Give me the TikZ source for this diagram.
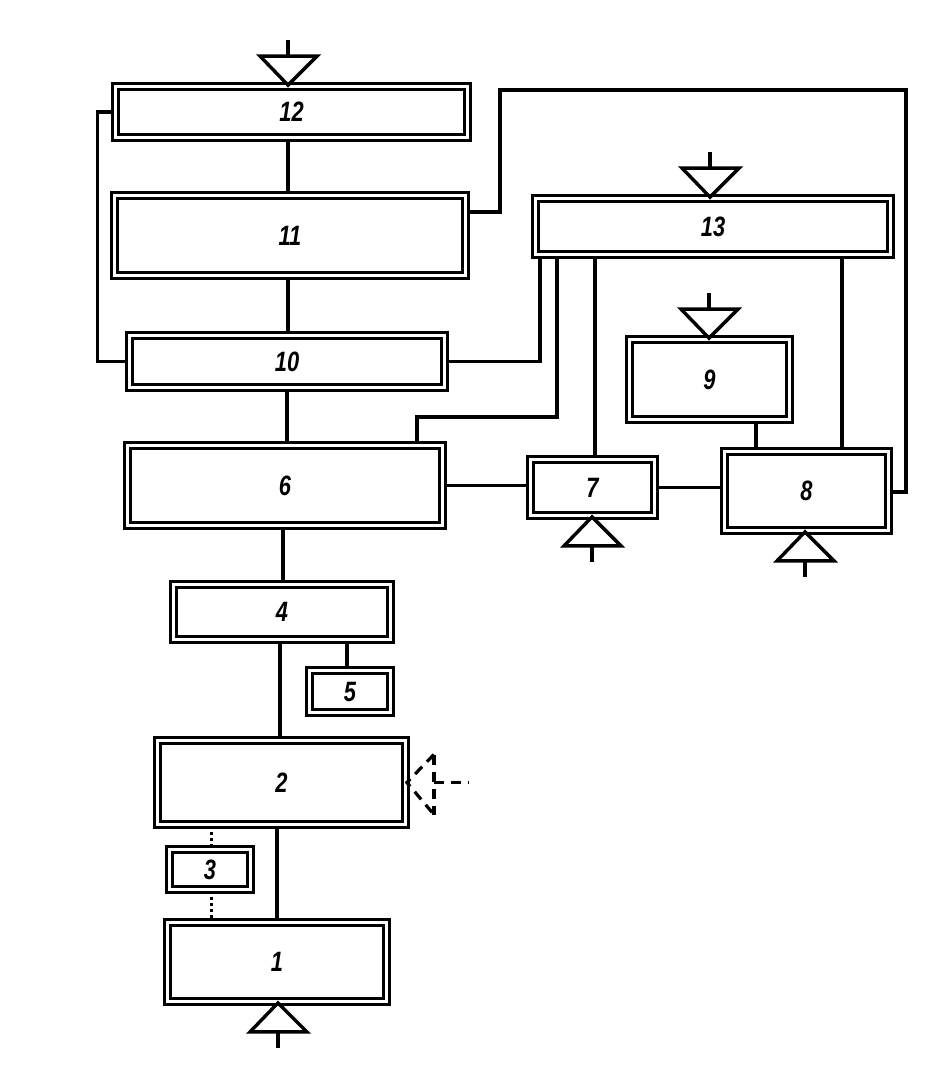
\documentclass[tikz,border=0pt]{standalone}
\usepackage{fontspec}
\newfontfamily\lblfont[FakeStretch=0.78]{Liberation Sans}
\usetikzlibrary{backgrounds,calc}
\begin{document}
\begin{tikzpicture}[x=1pt,y=-1pt,
  blk/.style={draw, double, line width=2.8pt, double distance=3.2pt, inner sep=0pt,
    font=\lblfont\bfseries\itshape\fontsize{28}{30}\selectfont},
  wire/.style={line width=3.2pt},
  dotw/.style={line width=3pt, dash pattern=on 3pt off 3pt},
  dashw/.style={line width=3.2pt, dash pattern=on 10pt off 7pt},
  inmark/.pic={\draw[line width=3.4pt, line join=miter] (-28,-29) -- (29,-29) -- (0,0) -- cycle;
                \draw[line width=3.8pt] (0,-29) -- (0,-45);}
]
\useasboundingbox (0,0) rectangle (944,1073);

% blocks
\node[blk, minimum width=352pt, minimum height=51pt] (n12) at (291.5,112) {12};
\node[blk, minimum width=351pt, minimum height=80pt] (n11) at (290,235.5) {11};
\node[blk, minimum width=315pt, minimum height=52pt] (n10) at (287,361.5) {10};
\node[blk, minimum width=355pt, minimum height=56pt] (n13) at (713,226.5) {13};
\node[blk, minimum width=160pt, minimum height=80pt] (n9) at (709.5,379.5) {9};
\node[blk, minimum width=315pt, minimum height=80pt] (n6) at (285,485.5) {6};
\node[blk, minimum width=124pt, minimum height=56pt] (n7) at (592.5,487.5) {7};
\node[blk, minimum width=164pt, minimum height=79pt] (n8) at (806.5,491) {8};
\node[blk, minimum width=217pt, minimum height=55pt] (n4) at (282,612) {4};
\node[blk, minimum width=81pt, minimum height=42pt] (n5) at (350,691.5) {5};
\node[blk, minimum width=248pt, minimum height=84pt] (n2) at (281.5,782.5) {2};
\node[blk, minimum width=81pt, minimum height=40pt] (n3) at (210,869.5) {3};
\node[blk, minimum width=219pt, minimum height=79pt] (n1) at (277,962) {1};

% connectors
\begin{pgfonlayer}{background}
\draw[wire] (n12.south -| 288,0) -- (n11.north -| 288,0);
\draw[wire] (n11.south -| 288,0) -- (n10.north -| 288,0);
\draw[wire] (n10.south -| 287,0) -- (n6.north -| 287,0);
\draw[wire] (n6.south -| 283,0) -- (n4.north -| 283,0);
\draw[wire] (n4.south -| 280,0) -- (n2.north -| 280,0);
\draw[wire] (n4.south -| 347,0) -- (n5.north -| 347,0);
\draw[wire] (n2.south -| 277,0) -- (n1.north -| 277,0);
\draw[dotw] (n2.south -| 211,0) -- (n3.north -| 211,0);
\draw[dotw] (n3.south -| 211,0) -- (n1.north -| 211,0);
\draw[wire] (n12.west) -- ++(-17,0) |- (n10.west);
\draw[wire] (n11.east |- 0,212) -- (500,212) -- (500,90) -- (906,90) -- (906,492) -- (n8.east |- 0,492);
\draw[wire] (n10.east) -| (n13.south -| 540,0);
\draw[wire] (n13.south -| 557,0) -- (557,417) -- (417,417) -- (n6.north -| 417,0);
\draw[wire] (n13.south -| 595,0) -- (n7.north -| 595,0);
\draw[wire] (n13.south -| 842,0) -- (n8.north -| 842,0);
\draw[wire] (n9.south -| 756,0) -- (n8.north -| 756,0);
\draw[wire] (n6.east) -- (n6.east -| n7.west);
\draw[wire] (n7.east) -- (n7.east -| n8.west);
\end{pgfonlayer}

% input markers
\pic at (n12.north -| 288,0) {inmark};
\pic at (n13.north -| 710,0) {inmark};
\pic at (n9.north -| 709,0) {inmark};
\pic[yscale=-1] at (n7.south -| 592,0) {inmark};
\pic[yscale=-1] at (n8.south -| 805,0) {inmark};
\pic[yscale=-1] at (n1.south -| 278,0) {inmark};

% dashed marker at block 2
\draw[dashw] ($(n2.east)+(27,-28)$) -- (n2.east) -- ($(n2.east)+(27,32)$);
\draw[dashw] ($(n2.east)+(27,-28)$) -- ($(n2.east)+(27,32)$);
\draw[dashw] ($(n2.east)+(27,0)$) -- ($(n2.east)+(62,0)$);
\end{tikzpicture}
\end{document}
